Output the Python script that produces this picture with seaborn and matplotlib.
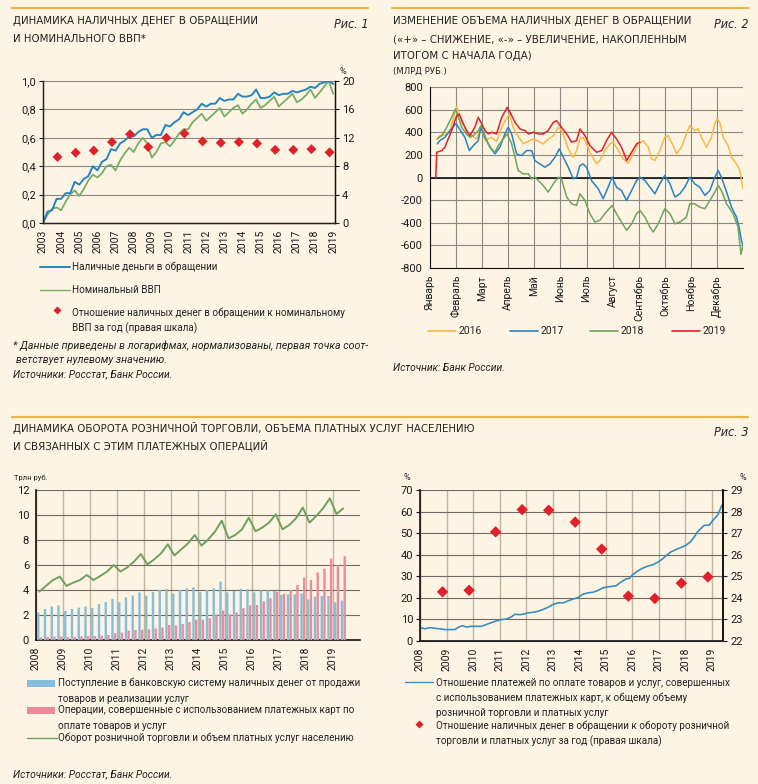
import numpy as np
import pandas as pd
import matplotlib
matplotlib.use("Agg")
import matplotlib.pyplot as plt
import seaborn as sns
from matplotlib.lines import Line2D
from matplotlib.patches import Rectangle
from matplotlib.ticker import FuncFormatter

# ---------------- DATA ----------------
# Fig.1: quarterly, log-normalised (2003Q1 .. 2019Q1)
p1_start = 2003
p1_cash = [0, .08, .09, .17, .17, .21, .21, .29, .27, .31,
           .33, .40, .37, .43, .45, .52, .51, .56, .58, .61,
           .61, .64, .66, .66, .60, .62, .62, .69, .68, .71,
           .73, .78, .76, .78, .80, .84, .82, .84, .84, .88,
           .86, .87, .87, .91, .89, .89, .90, .94, .88, .88,
           .89, .92, .90, .91, .91, .93, .92, .93, .94, .96,
           .95, .98, .99, 1.00, .98]
p1_gdp = [0, .06, .10, .11, .09, .15, .20, .23, .19, .24,
          .30, .34, .32, .35, .40, .41, .37, .44, .49, .53,
          .50, .56, .60, .56, .46, .50, .56, .57, .54, .58,
          .63, .66, .66, .71, .74, .77, .72, .75, .78, .81,
          .75, .78, .81, .83, .77, .80, .84, .87, .81, .83,
          .86, .89, .82, .85, .88, .91, .85, .87, .90, .94,
          .88, .92, .96, 1.00, .91]
p1_ratio_years = list(range(2003, 2019))
p1_ratio = [9.3, 9.9, 10.2, 11.4, 12.5, 10.7, 12.0, 12.6,
            11.5, 11.3, 11.4, 11.2, 10.3, 10.3, 10.4, 9.95]
p1_year_ticks = list(range(2003, 2020))

# Fig.2: cumulative change since start of year (month index, bn RUB)
p2_months = ['Январь', 'Февраль', 'Март', 'Апрель', 'Май', 'Июнь', 'Июль',
             'Август', 'Сентябрь', 'Октябрь', 'Ноябрь', 'Декабрь']
p2_m_2016 = [0.28, 0.38, 0.57, 0.77, 1.02, 1.21, 1.40, 1.60, 1.79, 1.95, 2.11, 2.36, 2.55, 2.81,
             3.04, 3.19, 3.32, 3.45, 3.58, 3.70, 3.96, 4.15, 4.34, 4.47, 4.73, 4.92, 5.04, 5.17,
             5.30, 5.49, 5.62, 5.75, 5.87, 6.00, 6.19, 6.39, 6.51, 6.70, 6.90, 7.02, 7.22, 7.41,
             7.60, 7.79, 7.98, 8.17, 8.37, 8.49, 8.62, 8.81, 9.00, 9.13, 9.32, 9.45, 9.64, 9.83,
             9.96, 10.15, 10.28, 10.41, 10.60, 10.79, 10.92, 11.01, 11.11, 11.24, 11.43, 11.56,
             11.75, 11.88, 12.0]
p2_v_2016 = [341, 370, 375, 420, 626, 488, 415, 370, 340, 458, 326, 355, 320, 473,
             560, 444, 385, 341, 297, 312, 341, 320, 297, 326, 370, 444, 415, 341,
             253, 180, 238, 341, 355, 297, 194, 120, 150, 238, 297, 312, 238, 165,
             126, 209, 297, 326, 268, 165, 150, 238, 355, 370, 282, 209, 268, 385,
             458, 415, 429, 355, 268, 355, 473, 517, 488, 355, 282, 180,
             120, 62, -100]
p2_m_2017 = [0.28, 0.38, 0.57, 0.77, 1.00, 1.09, 1.21, 1.34, 1.51, 1.66, 1.85, 1.95, 2.11, 2.30,
             2.49, 2.68, 2.87, 3.00, 3.13, 3.32, 3.51, 3.70, 3.90, 4.02, 4.21, 4.41, 4.60, 4.79,
             4.96, 5.11, 5.30, 5.49, 5.62, 5.75, 5.87, 6.00, 6.19, 6.45, 6.64, 6.83, 6.98, 7.15,
             7.34, 7.54, 7.73, 7.92, 8.05, 8.24, 8.43, 8.62, 8.81, 9.00, 9.20, 9.39, 9.58, 9.77,
             9.96, 10.15, 10.34, 10.54, 10.73, 10.92, 11.05, 11.17, 11.37, 11.56, 11.75, 11.85,
             11.94, 12.0]
p2_v_2017 = [297, 326, 355, 415, 479, 444, 400, 355, 238, 282, 326, 444, 355, 268,
             209, 268, 385, 444, 385, 209, 194, 238, 238, 150, 120, 91, 120, 180,
             253, 180, 91, -12, 3, 106, 120, 91, -26, -100, -188, -85, 3, -85,
             -115, -203, -115, -26, 3, -26, -85, -144, -56, 18, -56, -173, -144, -85,
             3, -56, -85, -159, -115, 3, 62, 3, -129, -262, -350, -438,
             -556, -600]
p2_m_2018 = [0.28, 0.45, 0.64, 0.83, 0.98, 1.09, 1.21, 1.40, 1.53, 1.66, 1.85, 1.95, 2.11, 2.23,
             2.36, 2.49, 2.62, 2.81, 2.96, 3.13, 3.26, 3.38, 3.58, 3.77, 3.90, 4.02, 4.15, 4.34,
             4.53, 4.73, 4.92, 5.04, 5.24, 5.43, 5.62, 5.75, 5.94, 6.13, 6.32, 6.51, 6.70, 6.98,
             7.15, 7.34, 7.54, 7.73, 7.92, 8.05, 8.24, 8.43, 8.56, 8.75, 9.00, 9.20, 9.39, 9.58,
             9.83, 9.96, 10.15, 10.34, 10.54, 10.73, 10.92, 11.05, 11.17, 11.37, 11.62, 11.81,
             11.92, 12.0]
p2_v_2018 = [341, 370, 444, 532, 606, 532, 444, 385, 355, 370, 415, 458, 370, 297,
             253, 223, 282, 341, 385, 297, 180, 62, 32, 32, -12, 3, -26, -71,
             -129, -56, 3, -12, -173, -232, -247, -144, -203, -320, -394, -379, -320, -247,
             -320, -394, -467, -409, -320, -291, -350, -438, -482, -409, -276, -320, -409, -394,
             -350, -232, -232, -262, -276, -203, -129, -71, -115, -232, -320, -438,
             -680, -600]
p2_m_2019 = [0.22, 0.26, 0.45, 0.57, 0.70, 0.83, 1.00, 1.12, 1.28, 1.40, 1.53, 1.72, 1.85, 1.95,
             2.11, 2.23, 2.36, 2.55, 2.75, 2.96, 3.07, 3.26, 3.45, 3.64, 3.77, 3.96, 4.15, 4.34,
             4.53, 4.73, 4.85, 5.04, 5.24, 5.43, 5.62, 5.75, 5.94, 6.13, 6.39, 6.58, 6.77, 6.96,
             7.15, 7.34, 7.47, 7.54, 7.73, 7.92, 8.05]
p2_v_2019 = [0, 223, 238, 268, 341, 415, 532, 562, 473, 415, 370, 444, 532, 488,
             415, 385, 400, 385, 532, 620, 576, 488, 429, 415, 385, 400, 385, 385,
             415, 488, 503, 444, 385, 312, 326, 429, 370, 282, 223, 238, 326, 400,
             341, 268, 194, 150, 223, 297, 312]

# Fig.3: quarterly 2008Q1..2019Q2, trillion RUB
p3_start = 2008
p3_cash_in = [2.21, 2.48, 2.69, 2.77, 2.32, 2.48, 2.59, 2.67, 2.56, 2.88, 3.04, 3.28,
              3.01, 3.41, 3.55, 3.81, 3.55, 3.84, 4.00, 4.08, 3.71, 4.00, 4.13, 4.21,
              3.82, 4.00, 4.13, 4.67, 3.81, 3.92, 4.10, 4.05, 3.81, 3.97, 3.97, 3.92,
              3.60, 3.65, 3.65, 3.73, 3.25, 3.47, 3.52, 3.52, 3.01, 3.15]
p3_cards = [0.21, 0.24, 0.27, 0.27, 0.24, 0.24, 0.29, 0.30, 0.32, 0.35, 0.40, 0.53,
            0.59, 0.75, 0.80, 0.82, 0.85, 0.93, 1.00, 1.20, 1.17, 1.28, 1.43, 1.62,
            1.63, 1.75, 2.05, 2.35, 2.05, 2.20, 2.55, 2.77, 2.80, 3.10, 3.35, 3.85,
            3.70, 4.00, 4.40, 5.00, 4.80, 5.40, 5.70, 6.50, 6.00, 6.70]
p3_turnover = [3.87, 4.35, 4.80, 5.07, 4.33, 4.59, 4.80, 5.20, 4.80, 5.12, 5.47, 6.00,
               5.47, 5.81, 6.27, 6.88, 6.05, 6.45, 6.93, 7.65, 6.77, 7.25, 7.73, 8.40,
               7.55, 8.05, 8.67, 9.55, 8.13, 8.40, 8.85, 9.79, 8.70, 8.99, 9.39, 10.05,
               8.85, 9.20, 9.73, 10.60, 9.39, 9.92, 10.53, 11.33, 10.08, 10.53]
p3_year_ticks = list(range(2008, 2020))

# Fig.4
p4_t = [2008.00, 2008.19, 2008.38, 2008.56, 2008.75, 2008.94, 2009.13, 2009.32, 2009.44, 2009.60,
        2009.75, 2009.94, 2010.13, 2010.32, 2010.51, 2010.69, 2010.88, 2011.07, 2011.26, 2011.45,
        2011.57, 2011.76, 2011.88, 2012.07, 2012.26, 2012.45, 2012.64, 2012.82, 2013.01, 2013.20,
        2013.39, 2013.58, 2013.76, 2013.95, 2014.14, 2014.33, 2014.52, 2014.70, 2014.89, 2015.08,
        2015.27, 2015.39, 2015.58, 2015.77, 2015.89, 2016.02, 2016.21, 2016.40, 2016.58, 2016.77,
        2016.96, 2017.15, 2017.27, 2017.46, 2017.65, 2017.84, 2018.03, 2018.21, 2018.34, 2018.46,
        2018.59, 2018.71, 2018.90, 2019.03, 2019.22, 2019.38]
p4_card_share = [6.2, 5.7, 6.2, 5.9, 5.6, 5.3, 5.3, 5.3, 6.3, 7.1,
                 6.5, 6.8, 6.8, 6.8, 7.7, 8.5, 9.3, 9.9, 10.2, 11.2,
                 12.4, 12.2, 12.4, 13.0, 13.3, 13.8, 14.6, 15.6, 16.9, 17.7,
                 17.7, 18.6, 19.4, 20.1, 21.7, 22.3, 22.6, 23.4, 24.6, 25.1,
                 25.4, 25.6, 27.4, 28.8, 29.0, 30.8, 32.5, 33.8, 34.7, 35.3,
                 36.5, 38.1, 39.5, 41.3, 42.4, 43.4, 44.4, 46.2, 48.3, 50.6,
                 52.2, 53.6, 53.7, 55.8, 58.4, 63.0]
p4_ratio_years = list(range(2008, 2019))
p4_ratio = [24.28, 24.35, 27.06, 28.09, 28.06, 27.51, 26.26, 24.08, 23.97, 24.68, 24.97]

# ---------------- STYLE ----------------
sns.set_style("white")
BG = '#fdf4e4'
GOLD = '#e9b54a'
plt.rcParams['font.family'] = ['Roboto', 'DejaVu Sans']
plt.rcParams['axes.unicode_minus'] = False
plt.rcParams['axes.facecolor'] = BG
plt.rcParams['figure.facecolor'] = BG
plt.rcParams['savefig.facecolor'] = BG
TITLE_FONT = dict(family=['Liberation Sans Narrow', 'DejaVu Sans'], fontstretch='condensed')
TS = 8.2
LS = 7.1
FS = 7.4

BLUE = '#2784c1'
GREEN = '#78ad68'
RED = '#e0202b'
ORANGE = '#f5b945'
GRID = '#8c8780'
VGRID = '#c4b59c'
BARBLUE = '#86bddb'
BARPINK = '#ee8b98'

W, H = 758, 784
fig = plt.figure(figsize=(W / 100, H / 100), dpi=100)


def fx(x):
    return x / W


def fy(y):
    return 1 - y / H


def txt(x, y, s, **kw):
    kw.setdefault('va', 'center')
    kw.setdefault('ha', 'left')
    kw.setdefault('color', '#222')
    fig.text(fx(x), fy(y), s, **kw)


def ax_at(l, t, r, b):
    return fig.add_axes([fx(l), fy(b), (r - l) / W, (b - t) / H])


def hline(x0, x1, y, color, lw):
    fig.add_artist(Line2D([fx(x0), fx(x1)], [fy(y), fy(y)], transform=fig.transFigure,
                          color=color, lw=lw))


def diamond(x, y, color, ms):
    fig.add_artist(Line2D([fx(x)], [fy(y)], transform=fig.transFigure, marker='D',
                          ms=ms, color=color, mec='none', ls='none'))


def style_ticks(ax, fs=8):
    ax.tick_params(axis='both', direction='out', length=3, width=0.8, pad=2,
                   labelsize=fs, colors='#1a1a1a')


comma = FuncFormatter(lambda v, p: f"{v:.1f}".replace('.', ','))

# separators
hline(12, 368, 8, GOLD, 1.6)
hline(392, 748, 8, GOLD, 1.6)
hline(12, 748, 417, GOLD, 1.6)

# ---------------- FIG 1 ----------------
txt(13, 21, 'ДИНАМИКА НАЛИЧНЫХ ДЕНЕГ В ОБРАЩЕНИИ', fontsize=TS, **TITLE_FONT)
txt(13, 39, 'И НОМИНАЛЬНОГО ВВП*', fontsize=TS, **TITLE_FONT)
txt(368, 25, 'Рис. 1', fontsize=9, style='italic', ha='right', **TITLE_FONT)

ax1 = ax_at(43, 81, 335, 223)
x1 = p1_start + 0.25 * np.arange(len(p1_cash))
sns.lineplot(x=x1, y=p1_gdp, color=GREEN, lw=1.3, ax=ax1, estimator=None)
sns.lineplot(x=x1, y=p1_cash, color=BLUE, lw=1.4, ax=ax1, estimator=None)
ax1.set_xlim(2003, 2019.1)
ax1.set_ylim(0, 1.0)
ax1.set_yticks(np.arange(0, 1.01, 0.2))
ax1.yaxis.set_major_formatter(comma)
ax1.set_xticks(p1_year_ticks)
ax1.set_xticklabels([str(y) for y in p1_year_ticks], rotation=90)
ax1.yaxis.grid(True, color=GRID, lw=0.8)
ax1.xaxis.grid(False)
ax1.set_axisbelow(True)
ax1.spines['top'].set_visible(False)
for s in ['left', 'bottom', 'right']:
    ax1.spines[s].set_color('#111')
    ax1.spines[s].set_linewidth(1.0)
style_ticks(ax1)
ax1.tick_params(axis='x', labelsize=7.5)
ax1.set_xlabel('')
ax1.set_ylabel('')
ax1r = ax1.twinx()
sns.scatterplot(x=np.array(p1_ratio_years) + 0.8, y=p1_ratio, marker='D', s=26, color=RED,
                edgecolor='none', ax=ax1r, zorder=5)
ax1r.set_ylim(0, 20)
ax1r.set_yticks(range(0, 21, 4))
ax1r.spines['top'].set_visible(False)
ax1r.spines['right'].set_color('#111')
style_ticks(ax1r)
ax1r.set_ylabel('')
txt(340, 71, '%', fontsize=6.5)

# legend 1
hline(40, 70, 267, BLUE, 1.4)
txt(72, 267, 'Наличные деньги в обращении', fontsize=LS)
hline(40, 70, 290, GREEN, 1.0)
txt(72, 290, 'Номинальный ВВП', fontsize=LS)
diamond(57, 310, RED, 4.5)
txt(72, 313, 'Отношение наличных денег в обращении к номинальному', fontsize=LS)
txt(72, 328, 'ВВП за год (правая шкала)', fontsize=LS)
txt(13, 346, '* Данные приведены в логарифмах, нормализованы, первая точка соот-',
    fontsize=7.7, style='italic')
txt(16, 360, 'ветствует нулевому значению.', fontsize=7.7, style='italic')
txt(13, 374, 'Источники: Росстат, Банк России.', fontsize=FS, style='italic')

# ---------------- FIG 2 ----------------
txt(393, 21, 'ИЗМЕНЕНИЕ ОБЪЕМА НАЛИЧНЫХ ДЕНЕГ В ОБРАЩЕНИИ', fontsize=TS, **TITLE_FONT)
txt(393, 39, '(«+» – СНИЖЕНИЕ, «-» – УВЕЛИЧЕНИЕ, НАКОПЛЕННЫМ', fontsize=TS, **TITLE_FONT)
txt(393, 56, 'ИТОГОМ С НАЧАЛА ГОДА)', fontsize=TS, **TITLE_FONT)
txt(393, 71, '(МЛРД РУБ.)', fontsize=6.8, **TITLE_FONT)
txt(748, 25, 'Рис. 2', fontsize=9, style='italic', ha='right', **TITLE_FONT)

ax2 = ax_at(430, 87, 743, 268)
frames = []
for yr, m, v in [(2016, p2_m_2016, p2_v_2016), (2017, p2_m_2017, p2_v_2017),
                 (2018, p2_m_2018, p2_v_2018), (2019, p2_m_2019, p2_v_2019)]:
    frames.append(pd.DataFrame({'m': m, 'v': v, 'year': str(yr)}))
df2 = pd.concat(frames, ignore_index=True)
pal2 = {'2016': ORANGE, '2017': BLUE, '2018': '#6ea45e', '2019': RED}
sns.lineplot(data=df2, x='m', y='v', hue='year', palette=pal2, estimator=None, sort=False,
             lw=1.1, legend=False, ax=ax2)
ax2.set_xlim(0, 12)
ax2.set_ylim(-800, 800)
ax2.set_yticks(range(-800, 801, 200))
ax2.set_xticks(range(12))
ax2.set_xticklabels(p2_months, rotation=90)
ax2.grid(True, color=GRID, lw=0.8)
ax2.set_axisbelow(True)
ax2.axhline(0, color='#111', lw=1.2, zorder=1)
ax2.spines['top'].set_visible(False)
ax2.spines['right'].set_visible(False)
ax2.spines['left'].set_color('#111')
ax2.spines['bottom'].set_color('#111')
style_ticks(ax2)
ax2.tick_params(axis='x', labelsize=7.5)
ax2.set_xlabel('')
ax2.set_ylabel('')

for x0, lab, c in [(428, '2016', ORANGE), (510, '2017', BLUE), (590, '2018', '#6ea45e'),
                   (672, '2019', RED)]:
    hline(x0, x0 + 28, 331, c, 1.2)
    txt(x0 + 31, 331, lab, fontsize=7.5)
txt(393, 368, 'Источник: Банк России.', fontsize=FS, style='italic')

# ---------------- FIG 3 ----------------
txt(13, 428, 'ДИНАМИКА ОБОРОТА РОЗНИЧНОЙ ТОРГОВЛИ, ОБЪЕМА ПЛАТНЫХ УСЛУГ НАСЕЛЕНИЮ',
    fontsize=TS, **TITLE_FONT)
txt(13, 445, 'И СВЯЗАННЫХ С ЭТИМ ПЛАТЕЖНЫХ ОПЕРАЦИЙ', fontsize=TS, **TITLE_FONT)
txt(748, 433, 'Рис. 3', fontsize=9, style='italic', ha='right', **TITLE_FONT)
txt(14, 478, 'Трлн руб.', fontsize=5.5)

ax3 = ax_at(36, 490, 360, 640)
q3 = p3_start + 0.13 + 0.25 * np.arange(len(p3_cash_in))
bars_b = ax3.bar(q3 - 0.047, p3_cash_in, width=0.088, color=BARBLUE, edgecolor='none',
                 linewidth=0, zorder=3)
bars_p = ax3.bar(q3 + 0.053, p3_cards, width=0.088, color=BARPINK, edgecolor='none',
                 linewidth=0, zorder=3)
for b in list(bars_b) + list(bars_p):
    b.set_snap(False)
sns.lineplot(x=q3, y=p3_turnover, color='#6ea160', lw=1.4, ax=ax3, estimator=None, zorder=4)
ax3.set_xlim(2008, 2020)
ax3.set_ylim(0, 12)
ax3.set_yticks(range(0, 13, 2))
ax3.set_xticks(p3_year_ticks)
ax3.set_xticklabels([str(y) for y in p3_year_ticks], rotation=90)
ax3.yaxis.grid(True, color='#6e6a64', lw=0.8, zorder=0)
ax3.xaxis.grid(True, color=VGRID, lw=1.0, zorder=0)
ax3.set_axisbelow(True)
ax3.spines['top'].set_visible(False)
ax3.spines['right'].set_visible(False)
ax3.spines['left'].set_color('#111')
ax3.spines['bottom'].set_color('#111')
ax3.spines['left'].set_linewidth(1.2)
ax3.spines['bottom'].set_linewidth(1.2)
style_ticks(ax3)
ax3.tick_params(axis='x', labelsize=7.5)
ax3.set_xlabel('')
ax3.set_ylabel('')

fig.add_artist(Rectangle((fx(27), fy(687)), 28 / W, 7 / H, transform=fig.transFigure,
                         color=BARBLUE, lw=0))
txt(58, 683, 'Поступление в банковскую систему наличных денег от продажи', fontsize=LS)
txt(58, 699, 'товаров и реализации услуг', fontsize=LS)
fig.add_artist(Rectangle((fx(27), fy(714)), 28 / W, 7 / H, transform=fig.transFigure,
                         color=BARPINK, lw=0))
txt(58, 710, 'Операции, совершенные с использованием платежных карт по', fontsize=LS)
txt(58, 726, 'оплате товаров и услуг', fontsize=LS)
hline(27, 57, 738, '#6ea160', 1.0)
txt(58, 738, 'Оборот розничной торговли и объем платных услуг населению', fontsize=LS)
txt(13, 774, 'Источники: Росстат, Банк России.', fontsize=FS, style='italic')

# ---------------- FIG 4 ----------------
ax4 = ax_at(420, 490, 723, 641)
sns.lineplot(x=p4_t, y=p4_card_share, color='#3b8dbf', lw=1.2, ax=ax4, estimator=None)
ax4.set_xlim(2008, 2019.42)
ax4.set_ylim(0, 70)
ax4.set_yticks(range(0, 71, 10))
ax4.set_xticks(p3_year_ticks)
ax4.set_xticklabels([str(y) for y in p3_year_ticks], rotation=90)
ax4.yaxis.grid(True, color='#6e6a64', lw=0.8)
ax4.xaxis.grid(True, color=VGRID, lw=1.0)
ax4.set_axisbelow(True)
ax4.spines['top'].set_visible(False)
for s in ['left', 'bottom', 'right']:
    ax4.spines[s].set_color('#111')
    ax4.spines[s].set_linewidth(1.2)
style_ticks(ax4)
ax4.tick_params(axis='x', labelsize=7.5)
ax4.set_xlabel('')
ax4.set_ylabel('')
ax4r = ax4.twinx()
sns.scatterplot(x=np.array(p4_ratio_years) + 0.85, y=p4_ratio, marker='D', s=34, color=RED,
                edgecolor='none', ax=ax4r, zorder=5)
ax4r.set_ylim(22, 29)
ax4r.set_yticks(range(22, 30))
ax4r.spines['top'].set_visible(False)
ax4r.spines['right'].set_color('#111')
ax4r.spines['right'].set_linewidth(1.2)
style_ticks(ax4r)
ax4r.set_ylabel('')
txt(404, 477, '%', fontsize=6.5)
txt(740, 477, '%', fontsize=6.5)

hline(405, 433, 682, '#3b8dbf', 1.0)
txt(436, 683, 'Отношение платежей по оплате товаров и услуг, совершенных', fontsize=LS)
txt(436, 698, 'с использованием платежных карт, к общему объему', fontsize=LS)
txt(436, 713, 'розничной торговли и платных услуг', fontsize=LS)
diamond(419, 724, RED, 4.5)
txt(436, 726, 'Отношение наличных денег в обращении к обороту розничной', fontsize=LS)
txt(436, 741, 'торговли и платных услуг за год (правая шкала)', fontsize=LS)

fig.savefig('out.png', dpi=100, facecolor=BG)
